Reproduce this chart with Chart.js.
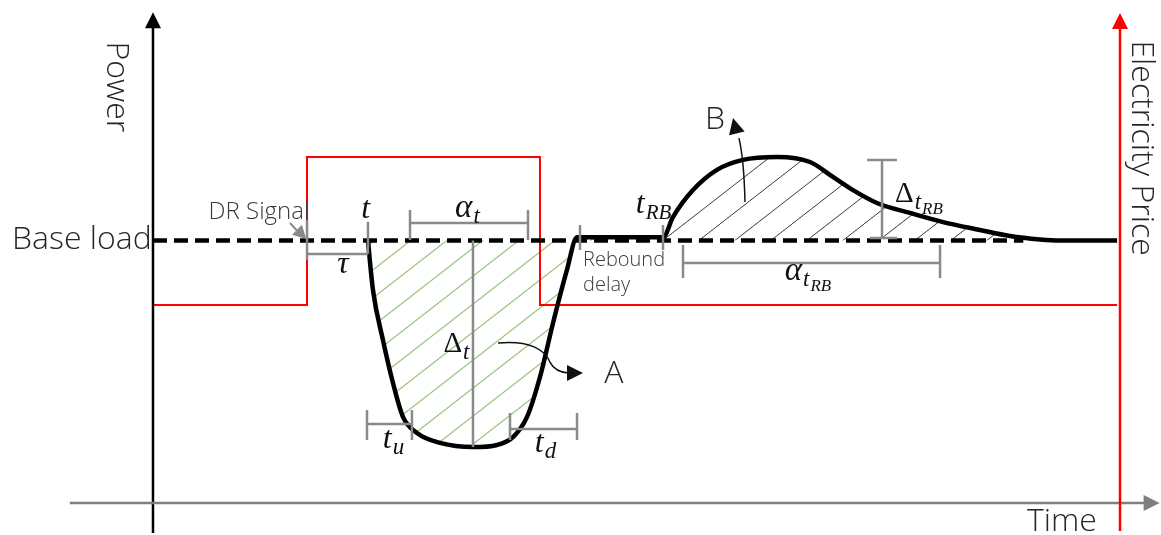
<!DOCTYPE html>
<html>
<head>
<meta charset="utf-8">
<script src="https://cdn.jsdelivr.net/npm/chart.js@4.4.1/dist/chart.umd.min.js"></script>
<style>
  html, body { margin: 0; padding: 0; background: #fff; }
  #wrap { width: 1161px; height: 535px; }
</style>
</head>
<body>
<div id="wrap"><canvas id="dr" width="1161" height="535"></canvas></div>
<script>
"use strict";

// time axis: 0 = power axis, 100 = price axis
// power: 100 = base load, 0 = time axis
const baseLoad = 100;
const baseTimes = [0, 90];

const loadTimes = [22.23, 22.75, 23.78, 24.82, 25.85, 27.3, 29.68, 33.09, 35.57, 37.23, 38.68, 40.02, 41.37, 42.81, 43.85,
    52.74, 53.77, 55.84, 58.32, 61.01, 64.53, 67.94, 70.32, 72.39, 74.87, 78.28, 81.7, 85.52, 88.62, 91.73, 93.8, 99.7];
const loadValues = [100, 81.1, 62.1, 45.7, 32.8, 26.7, 22.9, 21.3, 22.1, 25.1, 32.8, 48.0, 68.6, 88.8, 101.2,
    101.2, 108.9, 119.2, 126.9, 130.7, 131.8, 129.9, 124.2, 119.2, 114.3, 110.5, 107.0, 104.0, 101.7, 100.4, 100, 100];

// electricity price (own axis): low / high tariff
const priceTimes = [0, 15.93, 40.02, 99.7];
const priceValues = [1, 2, 1, 1];

// dimension marks
const tauSpan = [15.93, 22.23];
const alphaSpan = [26.58, 38.78];
const deltaDepth = [21.33, 100];
const tuSpan = [22.13, 26.78];
const tdSpan = [36.92, 43.85];
const reboundDelay = [44.16, 52.74];
const alphaRbSpan = [54.81, 81.39];
const deltaRbSpan = [100.95, 130.67];

function hatch(color, width) {
    const c = document.createElement("canvas");
    c.width = 36; c.height = 28;
    const g = c.getContext("2d");
    g.strokeStyle = color;
    g.lineWidth = width;
    [-36, 0, 36].forEach(function(off) {
        g.beginPath();
        g.moveTo(off - 36, 56);
        g.lineTo(off + 72, -28);
        g.stroke();
    });
    return g.createPattern(c, "repeat");
}

const GREY = "#8a8a8a";
const SANS = '"Open Sans", "Noto Sans", sans-serif';
const SERIF = '"Liberation Serif", "DejaVu Serif", serif';

function arrowHead(ctx, fx, fy, tx, ty, len, half, color) {
    const a = Math.atan2(ty - fy, tx - fx);
    ctx.save();
    ctx.fillStyle = color;
    ctx.translate(tx, ty);
    ctx.rotate(a);
    ctx.beginPath();
    ctx.moveTo(0, 0);
    ctx.lineTo(-len, -half);
    ctx.lineTo(-len, half);
    ctx.closePath();
    ctx.fill();
    ctx.restore();
}

// pieces: [text, size, dy, italic]
function mathText(ctx, cx, by, pieces) {
    let w = 0;
    pieces.forEach(function(p) {
        ctx.font = (p[3] ? "italic " : "") + p[1] + "px " + SERIF;
        w += ctx.measureText(p[0]).width;
    });
    let x = cx - w / 2;
    ctx.textAlign = "left";
    ctx.textBaseline = "alphabetic";
    ctx.fillStyle = "#111";
    pieces.forEach(function(p) {
        ctx.font = (p[3] ? "italic " : "") + p[1] + "px " + SERIF;
        ctx.fillText(p[0], x, by + p[2]);
        x += ctx.measureText(p[0]).width + 1;
    });
}

const sketch = {
    id: "sketch",
    afterDatasetsDraw: function(chart) {
        const ctx = chart.ctx;
        const sx = chart.scales.x, sy = chart.scales.y;
        const X = function(t) { return sx.getPixelForValue(t); };
        const Y = function(v) { return sy.getPixelForValue(v); };
        const line = function(t1, v1, t2, v2, color, w) {
            ctx.beginPath();
            ctx.strokeStyle = color;
            ctx.lineWidth = w;
            ctx.moveTo(X(t1), Y(v1));
            ctx.lineTo(X(t2), Y(v2));
            ctx.stroke();
        };
        // horizontal dimension with end ticks
        const hDim = function(span, v, tickTop, tickBot) {
            line(span[0], v, span[1], v, GREY, 2.5);
            line(span[0], tickTop, span[0], tickBot, GREY, 2.5);
            line(span[1], tickTop, span[1], tickBot, GREY, 2.5);
        };
        ctx.save();
        ctx.lineCap = "butt";

        // axes
        line(0, -11.4, 0, 182, "#000", 2.5);
        arrowHead(ctx, X(0), Y(150), X(0), Y(187), 16, 8, "#000");
        line(-8.6, 0, 102.6, 0, "#7f7f7f", 2.5);
        arrowHead(ctx, X(90), Y(0), X(104.1), Y(0), 16, 8, "#7f7f7f");
        line(100, -10.7, 100, 182, "#ff0000", 2.5);
        arrowHead(ctx, X(100), Y(150), X(100), Y(186.7), 16, 8, "#ff0000");

        // DR signal and tau
        line(tauSpan[0], 92.6, tauSpan[0], 107.8, GREY, 2.5);
        line(tauSpan[0], 94.9, tauSpan[1], 94.9, GREY, 2.5);
        line(tauSpan[1], 94.9, tauSpan[1], 107.1, GREY, 2.5);
        line(14.17, 106.67, 15.2, 102.5, GREY, 2);
        arrowHead(ctx, X(14.17), Y(106.67), X(15.85), Y(100.6), 13, 7, GREY);

        // reduction dimensions
        hDim(alphaSpan, 106.7, 111.6, 100.2);
        line(33.09, deltaDepth[0], 33.09, deltaDepth[1], GREY, 2.5);
        hDim(tuSpan, 30.1, 35.4, 24.0);
        hDim(tdSpan, 28.2, 34.3, 24.0);

        // rebound dimensions
        line(reboundDelay[0], 96.4, reboundDelay[0], 105.9, GREY, 2.5);
        line(reboundDelay[1], 96.4, reboundDelay[1], 105.9, GREY, 2.5);
        hDim(alphaRbSpan, 91.4, 98.3, 85.7);
        line(75.39, deltaRbSpan[0], 75.39, deltaRbSpan[1], GREY, 2.5);
        line(73.84, deltaRbSpan[1], 76.94, deltaRbSpan[1], GREY, 2.5);
        line(74.15, deltaRbSpan[0], 76.94, deltaRbSpan[0], GREY, 2.5);

        // area callouts
        ctx.strokeStyle = "#111";
        ctx.lineWidth = 1.5;
        ctx.beginPath();
        ctx.moveTo(X(35.68), Y(60.95));
        ctx.bezierCurveTo(X(38.99), Y(62.1), X(40.54), Y(58.3), X(41.05), Y(53.7));
        ctx.quadraticCurveTo(X(41.57), Y(49.9), X(43.0), Y(49.5));
        ctx.stroke();
        arrowHead(ctx, X(41.57), Y(49.5), X(44.47), Y(49.5), 16, 8, "#111");
        ctx.beginPath();
        ctx.moveTo(X(61.22), Y(114.67));
        ctx.quadraticCurveTo(X(61.12), Y(130.67), X(60.6), Y(139.0));
        ctx.stroke();
        arrowHead(ctx, X(60.7), Y(136), X(59.98), Y(146.7), 16, 8, "#111");

        // plain text
        ctx.fillStyle = "#262626";
        ctx.textBaseline = "middle";
        ctx.font = "300 32px " + SANS;
        ctx.textAlign = "left";
        ctx.fillText("Base load", X(-14.58), Y(100.2));
        ctx.textAlign = "center";
        ctx.fillText("Time", X(94.0), Y(-7.2));
        ctx.fillText("A", X(47.67), Y(49.1));
        ctx.fillText("B", X(58.12), Y(145.9));
        ctx.save();
        ctx.translate(X(-3.83), Y(158.5));
        ctx.rotate(Math.PI / 2);
        ctx.fillText("Power", 0, 0);
        ctx.restore();
        ctx.save();
        ctx.translate(X(102.17), Y(135.2));
        ctx.rotate(Math.PI / 2);
        ctx.fillText("Electricity Price", 0, 0);
        ctx.restore();
        ctx.fillStyle = "#3a3a3a";
        ctx.font = "300 24px " + SANS;
        ctx.fillText("DR Signal", X(10.96), Y(110.9));
        ctx.font = "300 20px " + SANS;
        ctx.textAlign = "left";
        ctx.fillText("Rebound", X(44.47), Y(92.6));
        ctx.fillText("delay", X(44.47), Y(83.0));

        // math labels
        mathText(ctx, X(22.0), Y(108.6), [["t", 32, 0, true]]);
        mathText(ctx, X(19.65), Y(87.6), [["\u03c4", 32, 0, true]]);
        mathText(ctx, X(32.47), Y(108.9), [["\u03b1", 33, 0, true], ["t", 23, 6, true]]);
        mathText(ctx, X(31.33), Y(57.5), [["\u0394", 29, 0, false], ["t", 23, 7, true]]);
        mathText(ctx, X(24.82), Y(21.0), [["t", 32, 0, true], ["u", 23, 6, true]]);
        mathText(ctx, X(40.54), Y(19.4), [["t", 32, 0, true], ["d", 23, 6, true]]);
        mathText(ctx, X(51.71), Y(110.5), [["t", 32, 0, true], ["RB", 21, 6, true]]);
        mathText(ctx, X(67.63), Y(84.9), [["\u03b1", 33, 0, true], ["t", 23, 6, true], ["RB", 17, 11, true]]);
        mathText(ctx, X(79.11), Y(114.7), [["\u0394", 29, 0, false], ["t", 23, 7, true], ["RB", 17, 12, true]]);

        ctx.restore();
    }
};

const toPoints = function(xs, ys) {
    return xs.map(function(x, i) { return { x: x, y: ys[i] }; });
};

new Chart(document.getElementById("dr"), {
    type: "line",
    data: {
        datasets: [
            {
                label: "Load",
                data: toPoints(loadTimes, loadValues),
                borderColor: "#000",
                borderWidth: 4.5,
                pointRadius: 0,
                cubicInterpolationMode: "monotone",
                fill: {
                    target: { value: baseLoad },
                    above: hatch("#3c3c3c", 1),
                    below: hatch("#93c47d", 1.2),
                },
                order: 0,
            },
            {
                label: "Base load",
                data: baseTimes.map(function(t) { return { x: t, y: baseLoad }; }),
                borderColor: "#000",
                borderWidth: 4.5,
                borderDash: [14, 7],
                pointRadius: 0,
                fill: false,
                order: 1,
            },
            {
                label: "Electricity price",
                data: toPoints(priceTimes, priceValues),
                borderColor: "#ff0000",
                borderWidth: 2,
                pointRadius: 0,
                stepped: "before",
                fill: false,
                yAxisID: "price",
                order: 2,
            },
        ],
    },
    options: {
        responsive: false,
        animation: false,
        layout: { padding: 0 },
        plugins: {
            legend: { display: false },
            tooltip: { enabled: false },
            filler: { drawTime: "beforeDatasetsDraw" },
        },
        scales: {
            x: { type: "linear", min: -15.82, max: 104.24, display: false },
            y: { min: -12.19, max: 191.62, display: false },
            price: { min: -0.554, max: 3.061, display: false, position: "right" },
        },
    },
    plugins: [sketch],
});
</script>
</body>
</html>
